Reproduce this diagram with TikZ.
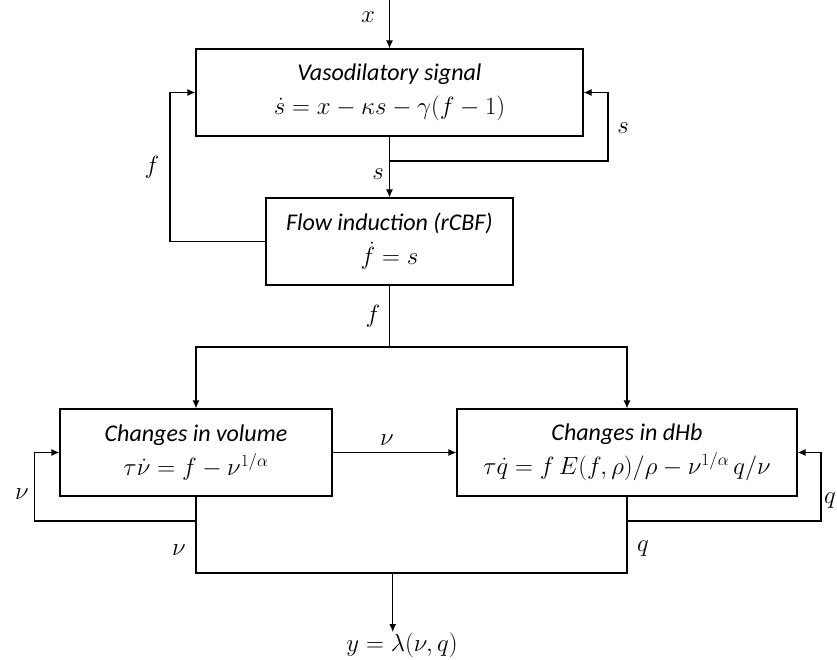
\documentclass[tikz,border=0pt]{standalone}
\usepackage[no-math]{fontspec}
\setmainfont{Carlito}
\usetikzlibrary{arrows.meta}
\tikzset{
  blk/.style={draw, line width=1.2pt, minimum height=87pt, inner sep=0pt, align=center, font=\fontsize{24}{30}\selectfont},
  conn/.style={line width=1.2pt},
  arr/.style={line width=1.2pt, -{Latex[length=8pt,width=7pt]}},
  lbl/.style={font=\fontsize{25}{30}\selectfont, inner sep=0pt}
}
\begin{document}
\begin{tikzpicture}[x=1pt,y=-1pt]
\useasboundingbox (0,0) rectangle (837,660);
% boxes
\node[blk, minimum width=387pt] (b1) at (389.5,92.5) {\textit{Vasodilatory signal}\\[4pt] $\dot s = x - \kappa s - \gamma(f-1)$};
\node[blk, minimum width=247pt] (b2) at (389.5,241.5) {\textit{Flow induction (rCBF)}\\[4pt] $\dot f = s$};
\node[blk, minimum width=272pt] (b3) at (196,452.5) {\textit{Changes in volume}\\[4pt] $\tau\dot\nu = f - \nu^{1/\alpha}$};
\node[blk, minimum width=340pt] (b4) at (627,452.5) {\textit{Changes in dHb}\\[4pt] $\tau\dot q = f\,E(f,\rho)/\rho - \nu^{1/\alpha}\,q/\nu$};
\node[lbl, anchor=north] (yout) at (402,633) {$y = \lambda(\nu,q)$};
% coordinates
\coordinate (xin) at (389.5,0);
\coordinate (j1) at (389.5,161);
\coordinate (sfb) at (608,161);
\coordinate (ffb) at (170,241.5);
\coordinate (j2) at (389.5,347);
\coordinate (j3) at (196,521);
\coordinate (vfb) at (34.7,521);
\coordinate (j4) at (627,521);
\coordinate (qfb) at (821,521);
\coordinate (bl) at (196,573);
\coordinate (br) at (627,573);
\coordinate (bm) at (392.7,573);
\coordinate (yend) at (392.7,632);
% connectors
\draw[arr] (xin) -- (b1.north);
\draw[conn] (b1.south) -- (j1);
\draw[arr] (j1) -- (b2.north);
\draw[arr] (j1) -- (sfb) |- (b1.east);
\draw[arr] (b2.west) -- (ffb) |- (b1.west);
\draw[conn] (b2.south) -- (j2);
\draw[arr] (j2) -| (b3.north);
\draw[arr] (j2) -| (b4.north);
\draw[arr] (b3.east) -- (b4.west);
\draw[conn] (b3.south) -- (j3);
\draw[arr] (j3) -- (vfb) |- (b3.west);
\draw[conn] (b4.south) -- (j4);
\draw[arr] (j4) -- (qfb) |- (b4.east);
\draw[conn] (j3) -- (bl) -- (br) -- (j4);
\draw[arr] (bm) -- (yend);
% labels
\node[lbl] (lx) at (368,17) {$x$};
\node[lbl] (ls1) at (623,128) {$s$};
\node[lbl] (ls2) at (378,174) {$s$};
\node[lbl] (lf1) at (152,167) {$f$};
\node[lbl] (lf2) at (373,316) {$f$};
\node[lbl] (lv1) at (22,494) {$\nu$};
\node[lbl] (lv2) at (387,440) {$\nu$};
\node[lbl] (lq1) at (830,501) {$q$};
\node[lbl] (lv3) at (179,550) {$\nu$};
\node[lbl] (lq2) at (643,549) {$q$};
\end{tikzpicture}
\end{document}
